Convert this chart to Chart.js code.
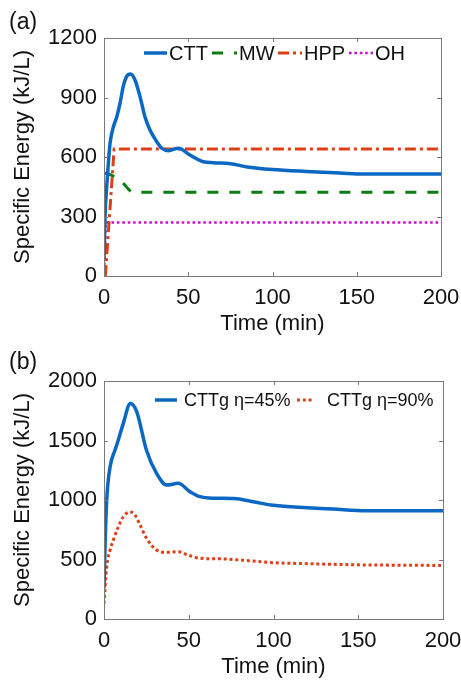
<!DOCTYPE html>
<html>
<head>
<meta charset="utf-8">
<script src="https://cdn.jsdelivr.net/npm/chart.js@4.4.1/dist/chart.umd.min.js"></script>
<style>
  html, body { margin: 0; padding: 0; background: #fff; }
  body { width: 461px; height: 682px; position: relative; overflow: hidden; font-family: "Liberation Sans", Arial, sans-serif; }
  .panel { position: absolute; left: 0; width: 461px; height: 341px; }
  .tag { position: absolute; left: 9px; font-size: 23px; color: #111; line-height: 1; }
</style>
</head>
<body>
<div class="panel" style="top:0"><canvas id="chartA" width="461" height="341"></canvas></div>
<div class="panel" style="top:341px"><canvas id="chartB" width="461" height="341"></canvas></div>
<div class="tag" style="top:10px">(a)</div>
<div class="tag" style="top:350px">(b)</div>
<script>
// (a) time in minutes, specific energy in kJ/L
const cttTime = [0, 0.6, 1.6, 2.6, 3.6, 5.5, 7.5, 9.5, 11.4, 13.4, 15.8, 18.4, 21.4, 24.3, 27.3, 31.3, 34.3, 38.3, 44.2, 51, 59, 65, 75, 85, 100, 120, 140, 155, 175, 200];
const cttEnergy = [80, 300, 450, 570, 670, 750, 800, 870, 955, 1005, 1018, 988, 904, 803, 736, 677, 644, 632, 644, 610, 576, 571, 566, 550, 537, 527, 519, 514, 514, 514];
const mwTime = [0, 4, 8, 11.5, 14.4, 17, 200];
const mwEnergy = [520, 510, 490, 467, 439, 422, 422];
const hppTime = [0.8, 6, 200];
const hppEnergy = [0, 640, 640];
const ohTime = [0, 1, 200];
const ohEnergy = [0, 270, 270];

// (b)
const g45Time = [0, 0.6, 1.6, 3.6, 6.5, 7.5, 11.4, 15.5, 19.3, 25, 31, 37, 43.8, 50.7, 56.6, 65, 76.7, 88, 100, 120, 135, 155, 175, 200];
const g45Energy = [258, 608, 1000, 1280, 1420, 1462, 1644, 1810, 1742, 1420, 1224, 1126, 1140, 1070, 1028, 1015, 1012, 985, 955, 935, 924, 910, 910, 910];
const g90Time = [0, 1.6, 3.6, 5.5, 8.5, 11.4, 15.3, 18, 21, 25, 31, 37, 44, 50, 56.6, 70, 85, 100, 120, 150, 175, 200];
const g90Energy = [130, 440, 580, 664, 776, 860, 900, 880, 800, 680, 580, 560, 565, 535, 510, 505, 490, 473, 465, 455, 452, 450];

const xTicks = [0, 50, 100, 150, 200];

const FONT = "'Liberation Sans', Arial, sans-serif";
const frameColor = "#7a7a7a";
const blue = "#0a68c2";
const green = "#0b7d12";
const red = "#de3f14";
const magenta = "#cc11cc";

const pts = (xs, ys) => xs.map((x, i) => ({ x, y: ys[i] }));

const frameTicks = {
  id: "frameTicks",
  afterDraw(chart) {
    const { ctx, chartArea: a, scales } = chart;
    ctx.save();
    ctx.strokeStyle = frameColor;
    ctx.lineWidth = 1;
    ctx.strokeRect(Math.round(a.left) + 0.5, Math.round(a.top) + 0.5, Math.round(a.right - a.left), Math.round(a.bottom - a.top));
    ctx.beginPath();
    scales.x.ticks.forEach((t) => {
      const px = Math.round(scales.x.getPixelForValue(t.value)) + 0.5;
      ctx.moveTo(px, a.bottom); ctx.lineTo(px, a.bottom - 4);
      ctx.moveTo(px, a.top); ctx.lineTo(px, a.top + 4);
    });
    scales.y.ticks.forEach((t) => {
      const py = Math.round(scales.y.getPixelForValue(t.value)) + 0.5;
      ctx.moveTo(a.left, py); ctx.lineTo(a.left + 4, py);
      ctx.moveTo(a.right, py); ctx.lineTo(a.right - 4, py);
    });
    ctx.stroke();
    ctx.restore();
  },
};

const insideLegend = {
  id: "insideLegend",
  afterDraw(chart, args, opts) {
    const { ctx } = chart;
    ctx.save();
    ctx.font = `${opts.size}px ${FONT}`;
    ctx.textBaseline = "middle";
    ctx.fillStyle = "#111";
    opts.items.forEach((it) => {
      const ds = chart.data.datasets[it.index];
      ctx.beginPath();
      ctx.strokeStyle = ds.borderColor;
      ctx.lineWidth = ds.borderWidth;
      ctx.setLineDash(ds.borderDash || []);
      ctx.moveTo(it.x0, opts.y);
      ctx.lineTo(it.x1, opts.y);
      ctx.stroke();
      ctx.setLineDash([]);
      ctx.fillText(ds.label, it.tx, opts.y + 1);
    });
    ctx.restore();
  },
};

function buildChart(id, datasets, yMax, yStep, pad, axisH, titlePad, legend) {
  return new Chart(document.getElementById(id), {
    type: "line",
    data: { datasets },
    options: {
      responsive: false,
      animation: false,
      layout: { padding: { left: 0, top: pad.top, right: pad.right, bottom: 0 } },
      elements: { point: { radius: 0 }, line: { cubicInterpolationMode: "monotone" } },
      plugins: { legend: { display: false }, tooltip: { enabled: false }, insideLegend: legend },
      scales: {
        x: {
          type: "linear",
          min: 0,
          max: 200,
          afterBuildTicks: (s) => { s.ticks = xTicks.map((v) => ({ value: v })); },
          afterFit: (s) => { s.height = axisH; s.paddingLeft = 0; s.paddingRight = 0; },
          grid: { display: false, drawTicks: false },
          border: { display: false },
          ticks: { color: "#111", padding: 9, font: { family: FONT, size: 22 }, maxRotation: 0 },
          title: { display: true, text: "Time (min)", color: "#111", font: { family: FONT, size: 22 }, padding: { top: 0, bottom: titlePad } },
        },
        y: {
          min: 0,
          max: yMax,
          afterFit: (s) => { s.width = 104; s.paddingTop = 0; s.paddingBottom = 0; },
          grid: { display: false, drawTicks: false },
          border: { display: false },
          ticks: { stepSize: yStep, color: "#111", padding: 7, font: { family: FONT, size: 22 }, callback: (v) => String(v) },
          title: { display: true, text: "Specific Energy (kJ/L)", color: "#111", font: { family: FONT, size: 22 }, padding: { top: 10, bottom: 0 } },
        },
      },
    },
    plugins: [frameTicks, insideLegend],
  });
}

buildChart("chartA", [
  { label: "CTT", data: pts(cttTime, cttEnergy), borderColor: blue, borderWidth: 3.5 },
  { label: "MW", data: pts(mwTime, mwEnergy), borderColor: green, borderWidth: 3, borderDash: [11, 11] },
  { label: "HPP", data: pts(hppTime, hppEnergy), borderColor: red, borderWidth: 3, borderDash: [11, 4, 3, 4], cubicInterpolationMode: "default", tension: 0 },
  { label: "OH", data: pts(ohTime, ohEnergy), borderColor: magenta, borderWidth: 2.6, borderDash: [2.6, 2.8], cubicInterpolationMode: "default", tension: 0 },
], 1200, 300, { top: 38, right: 20 }, 65, 4, {
  size: 20, y: 53,
  items: [
    { index: 0, x0: 144, x1: 167, tx: 169 },
    { index: 1, x0: 212, x1: 237, tx: 239 },
    { index: 2, x0: 278, x1: 302, tx: 304 },
    { index: 3, x0: 349, x1: 373, tx: 375 },
  ],
});

buildChart("chartB", [
  { label: "CTTg η=45%", data: pts(g45Time, g45Energy), borderColor: blue, borderWidth: 3.5 },
  { label: "CTTg η=90%", data: pts(g90Time, g90Energy), borderColor: red, borderWidth: 3, borderDash: [3, 2.8] },
], 2000, 500, { top: 40, right: 18 }, 63, 2, {
  size: 18, y: 59,
  items: [
    { index: 0, x0: 155, x1: 177, tx: 184 },
    { index: 1, x0: 297, x1: 314, tx: 327 },
  ],
});
</script>
</body>
</html>
